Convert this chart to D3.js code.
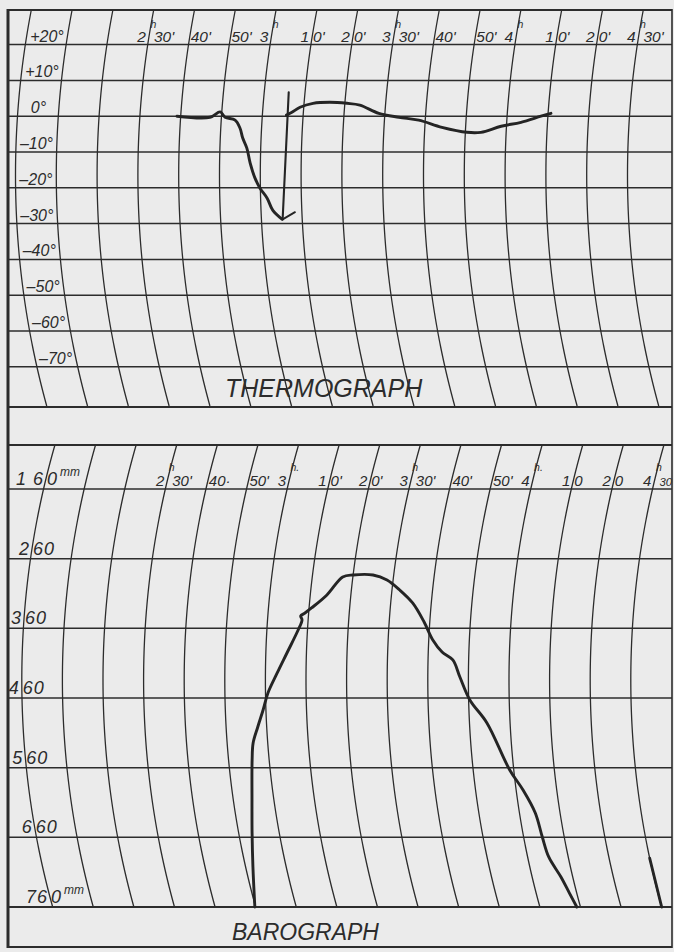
<!DOCTYPE html>
<html><head><meta charset="utf-8">
<script src="https://cdn.jsdelivr.net/npm/d3@7"></script>
<style>html,body{margin:0;padding:0;background:#ebebeb;}svg{display:block}</style>
</head><body>
<script>
// ---------------- DATA ----------------
// time lines: minutes after 2h00, every 10 minutes up to 4h30
const timeMinutes = [0,10,20,30,40,50,60,70,80,90,100,110,120,130,140,150];
// thermograph temperature rulings
const thermoTicks = [20,10,0,-10,-20,-30,-40,-50,-60,-70];
const thermoTickLabels = ["+20°","+10°","0°","–10°","–20°","–30°","–40°","–50°","–60°","–70°"];
// barograph pressure rulings (mm)
const baroTicks = [160,260,360,460,560,660,760];
const baroLabelPre  = ["1 6","2","3","4","5","6","76"];
const baroLabelPost = ["0","60","60","60","60","60","0"];
const baroLabelSup  = ["mm","","","","","","mm"];
// time labels (minutes), split around the ruling: before | superscript | after
const timeLabelMinutes = [30,40,50,60,70,80,90,100,110,120,130,140,150];
const thermoTimePre  = ["2","","","3","1","2","3","","","4","1","2","4"];
const thermoTimeSup  = ["h","","","h","","","h","","","h","","","h"];
const thermoTimePost = ["30'","40'","50'","","0'","0'","30'","40'","50'","","0'","0'","30'"];
const baroTimePre  = ["2","","","3","1","2","3","","","4","1","2","4"];
const baroTimeSup  = ["h","","","h.","","","h","","","h.","","","h"];
const baroTimePost = ["30'","40·","50'","","0'","0'","30'","40'","50'","","0","0","30"];
// thermograph trace (minutes after 2h, °)
const thermoDropT = [39.1,47.2,49.6,50.9,53.4,54.7,55.5,56.6,57.5,58.7,59.9,61.6,62.9,65.1];
const thermoDropV = [0,-0.3,1.2,-0.3,-1.1,-3.3,-6.1,-8.9,-13.1,-17.3,-20.1,-22.9,-26.3,-28.8];
const thermoSpikeT = [65.2,66.0];
const thermoSpikeV = [-28.8,6.7];
const thermoBarbT = [65.2,68.3];
const thermoBarbV = [-28.8,-26.8];
const thermoRiseT = [65.9,67.2,69.1,72.2,76.3,80.5,83.7,88.5,93.5,98.4,104.2,110.4,113.8,118.7,123.5,128.3,130.7];
const thermoRiseV = [0.3,1.1,2.5,3.6,3.9,3.6,3.1,0.8,-0.3,-1.1,-3.1,-4.5,-4.5,-2.8,-1.7,0,0.8];
// barograph trace (minutes after 2h, mm)
const baroT = [49.8,51.8,53.3,54.6,55.8,56.4,57.8,59.3,60.6,62.9,65.2,67.7,68.5,68.1,69.1,70.6,74.1,77.5,80.0,84.9,88.5,91.9,95.4,98.6,101.0,103.4,106.1,107.9,110.3,114.3,119.0,121.7,123.9,124.6,125.2,127.1,128.2,129.1];
const baroP = [760,702.6,653.8,606.4,549,524.6,501.6,477.2,452.8,424.1,395.4,362.4,348,342.3,338,330.8,312.1,286.3,283.4,283.4,290.6,305,323.6,350.9,376.7,394,405.4,429.8,462.8,495.8,563.3,592,625,659.5,688.2,716.9,740,760];
const baroTailT = [150,150];
const baroTailP = [690,760];

// ---------------- DRAWING ----------------
const W = 674, H = 952;
const ink = "#2c2c2c";
const svg = d3.select("body").append("svg").attr("width", W).attr("height", H);
svg.append("rect").attr("width", W).attr("height", H).attr("fill", "#ebebeb");

const left = 8, right = 672;
const thermo = {
  top: 10, bottom: 407, yc: 175, R: 870,
  x: d3.scaleLinear().domain([0,150]).range([15.5, 15.5 + 15*40.8]),
  y: d3.scaleLinear().domain([20,-70]).range([44.6, 366.8])
};
const baro = {
  top: 445, bottom: 907, yc: 680, R: 850,
  x: d3.scaleLinear().domain([0,150]).range([21.8, 21.8 + 15*40.6]),
  y: d3.scaleLinear().domain([160,760]).range([489, 907])
};
function arcOff(p, y) { return p.R - Math.sqrt(p.R*p.R - (y - p.yc)*(y - p.yc)); }
function px(p, t, yPix) { return p.x(t) + arcOff(p, yPix); }

const line = d3.line().x(d => d[0]).y(d => d[1]);
const smooth = d3.line().x(d => d[0]).y(d => d[1]).curve(d3.curveCatmullRom.alpha(0.5));

function drawPanel(p, ticks) {
  const g = svg.append("g");
  g.selectAll("line.h").data(ticks).join("line")
    .attr("x1", left).attr("x2", right)
    .attr("y1", d => p.y(d)).attr("y2", d => p.y(d))
    .attr("stroke", ink).attr("stroke-width", 1.5);
  const ys = d3.range(p.top, p.bottom + 0.01, 3);
  g.selectAll("path.arc").data(timeMinutes).join("path")
    .attr("d", t => line(ys.map(y => [px(p, t, y), y])))
    .attr("fill", "none").attr("stroke", ink).attr("stroke-width", 1.3);
  return g;
}
drawPanel(thermo, thermoTicks);
drawPanel(baro, baroTicks);

// frame
const frame = [[left,10,right,10,2],[left,407,right,407,2],[left,445,right,445,2],[left,907,right,907,2],[left,947,right,947,2.2]];
frame.forEach(f => svg.append("line").attr("x1",f[0]).attr("y1",f[1]).attr("x2",f[2]).attr("y2",f[3]).attr("stroke",ink).attr("stroke-width",f[4]));
svg.append("line").attr("x1",left).attr("x2",left).attr("y1",9).attr("y2",948).attr("stroke",ink).attr("stroke-width",3);
svg.append("line").attr("x1",right).attr("x2",right).attr("y1",9).attr("y2",948).attr("stroke",ink).attr("stroke-width",1.6);

const font = "'Liberation Sans', Arial, sans-serif";
function txt(x, y, s, size, anchor) {
  return svg.append("text").attr("x", x).attr("y", y).text(s)
    .attr("font-family", font).attr("font-style", "italic").attr("font-size", size)
    .attr("fill", ink).attr("text-anchor", anchor || "start");
}

// thermograph value labels (between first and second time line)
thermoTicks.forEach((v, i) => {
  const yb = thermo.y(v) - 3;
  const xm = (px(thermo, 0, yb - 5) + px(thermo, 10, yb - 5)) / 2;
  txt(xm, yb, thermoTickLabels[i], 16, "middle");
});

// barograph value labels (first time line passes through them)
baroTicks.forEach((v, i) => {
  const yb = baro.y(v) - 4;
  const lx = px(baro, 0, yb - 6);
  txt(lx - 2, yb, baroLabelPre[i], 18, "end").attr("letter-spacing", 1);
  const post = txt(lx + 1, yb, baroLabelPost[i], 18).attr("letter-spacing", 1);
  if (baroLabelSup[i]) {
    const w = post.node().getComputedTextLength();
    txt(lx + 3 + w, yb - 9, baroLabelSup[i], 12);
  }
});

// time labels
function timeLabels(p, yb, lift, size, pre, sup, post) {
  timeLabelMinutes.forEach((t, i) => {
    const lx = px(p, t, yb - 5);
    if (pre[i]) txt(lx - 3, yb, pre[i], size, "end");
    if (sup[i]) txt(lx + 1.5, yb - lift, sup[i], 10.5);
    if (post[i]) {
      const x0 = lx + (sup[i] ? 5 : 1);
      const el = txt(x0, yb, post[i], size);
      const w = el.node().getComputedTextLength();
      if (x0 + w > W - 2) el.attr("font-size", size * (W - 2 - x0) / w);
    }
  });
}
timeLabels(thermo, 42, 14.5, 15.5, thermoTimePre, thermoTimeSup, thermoTimePost);
timeLabels(baro, 486, 15, 15, baroTimePre, baroTimeSup, baroTimePost);

// titles
txt(225, 397, "THERMOGRAPH", 25);
txt(232, 940, "BAROGRAPH", 23);

// traces
function trace(p, ts, vs, width, curve) {
  const pts = ts.map((t, i) => { const y = p.y(vs[i]); return [px(p, t, y), y]; });
  svg.append("path").attr("d", (curve ? smooth : line)(pts))
    .attr("fill", "none").attr("stroke", "#242424").attr("stroke-width", width)
    .attr("stroke-linejoin", "round").attr("stroke-linecap", "round");
}
trace(thermo, thermoDropT, thermoDropV, 2.9, true);
trace(thermo, thermoSpikeT, thermoSpikeV, 2.1, false);
trace(thermo, thermoBarbT, thermoBarbV, 1.9, false);
trace(thermo, thermoRiseT, thermoRiseV, 2.9, true);
trace(baro, baroT, baroP, 2.9, true);
trace(baro, baroTailT, baroTailP, 2.9, false);
</script>
</body></html>
